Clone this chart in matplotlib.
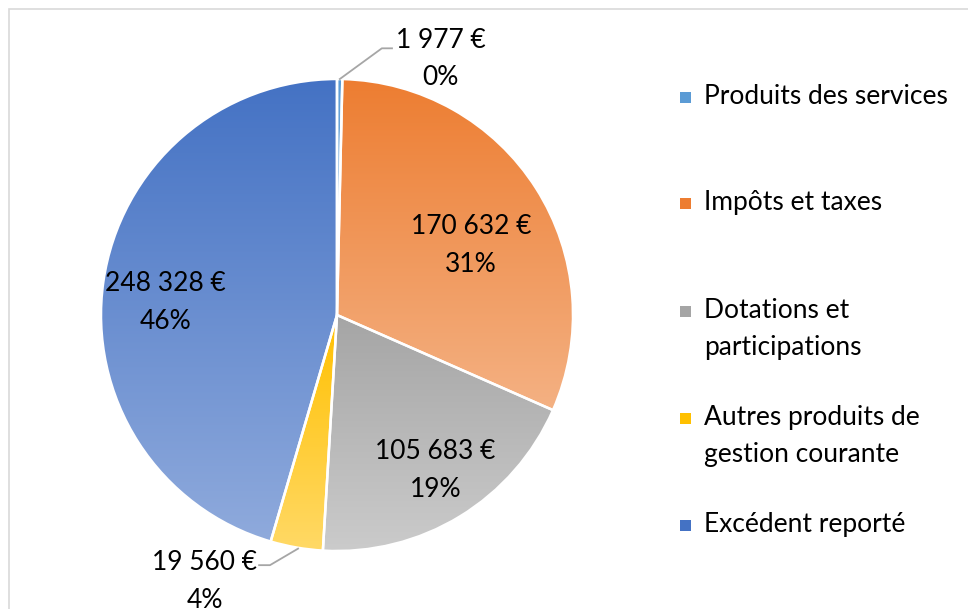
import numpy as np
import matplotlib
matplotlib.use('Agg')
import matplotlib.pyplot as plt
from matplotlib.colors import LinearSegmentedColormap
from matplotlib.patches import Rectangle

# data
categories = ['Produits des services', 'Impôts et taxes', 'Dotations et\nparticipations',
              'Autres produits de\ngestion courante', 'Excédent reporté']
values = [1977, 170632, 105683, 19560, 248328]
value_labels = ['1 977 €', '170 632 €', '105 683 €', '19 560 €', '248 328 €']
pct_labels = ['0%', '31%', '19%', '4%', '46%']
top_colors = ['#5B9BD5', '#ED7D31', '#A5A5A5', '#FFC000', '#4472C4']
bottom_colors = ['#9DC3E6', '#F4B183', '#CBCBCB', '#FFD966', '#8FAADC']

plt.rcParams['font.family'] = ['Lato', 'DejaVu Sans']
W, H = 968, 609
fig = plt.figure(figsize=(W / 100, H / 100), dpi=100)

# chart area border
fig.patches.append(Rectangle((9 / W, -0.1), 1.2, 1 - 9 / H + 0.1, transform=fig.transFigure,
                             facecolor='none', edgecolor='#D9D9D9', linewidth=1.2))

# pie axes: center (337, 315) px, radius 236 px
cx, cy, r = 337, 315, 236
ax = fig.add_axes([(cx - r) / W, (H - cy - r) / H, 2 * r / W, 2 * r / H])
ax.set_xlim(-1, 1)
ax.set_ylim(-1, 1)
ax.set_aspect('equal')
ax.axis('off')

wedges, _ = ax.pie(values, startangle=90, counterclock=False, radius=1,
                   wedgeprops=dict(edgecolor='white', linewidth=1.8))

# vertical gradient per slice
for w, c1, c2 in zip(wedges, top_colors, bottom_colors):
    ext = w.get_path().get_extents()
    cmap = LinearSegmentedColormap.from_list('g', [c2, c1])
    grad = np.linspace(0, 1, 256).reshape(-1, 1)
    im = ax.imshow(grad, cmap=cmap, origin='lower', aspect='auto',
                   extent=(ext.x0, ext.x1, ext.y0, ext.y1), zorder=0.5,
                   interpolation='bilinear')
    im.set_clip_path(w)
    w.set_facecolor('none')
    w.set_zorder(1)
ax.set_xlim(-1, 1)
ax.set_ylim(-1, 1)

fs = 19
ls = 1.62
# inside labels, placed along each slice's middle angle
inside_r = {1: 0.64, 2: 0.78, 4: 0.73}
inside_shift = {1: -5, 2: 1, 4: 4}
for i, w in enumerate(wedges):
    if i not in inside_r:
        continue
    mid = np.deg2rad((w.theta1 + w.theta2) / 2 + inside_shift[i])
    ax.text(inside_r[i] * np.cos(mid), inside_r[i] * np.sin(mid),
            value_labels[i] + '\n' + pct_labels[i], ha='center', va='center',
            fontsize=fs, linespacing=ls, color='black')

# outside labels with leader lines
ax.text(0.44, 1.085, value_labels[0] + '\n' + pct_labels[0], ha='center', va='center',
        fontsize=fs, linespacing=ls)
ax.plot([0.012, 0.19, 0.233], [1.0, 1.13, 1.13], color='#A6A6A6', lw=1.3, clip_on=False)
ax.text(-0.56, -1.13, value_labels[3] + '\n' + pct_labels[3], ha='center', va='center',
        fontsize=fs, linespacing=ls)
ax.plot([-0.165, -0.284, -0.33], [-0.99, -1.06, -1.06], color='#A6A6A6', lw=1.3, clip_on=False)

# legend drawn by hand to keep Excel's spacing
leg_y = [97, 203, 311, 418, 525]
for lab, y, c1, c2 in zip(categories, leg_y, top_colors, bottom_colors):
    fig.patches.append(Rectangle((680 / W, 1 - (y + 6) / H), 11 / W, 11 / H,
                                 transform=fig.transFigure, facecolor=c1, edgecolor='none'))
    fig.text(704 / W, 1 - (y - 13) / H, lab, ha='left', va='top', fontsize=fs,
             linespacing=ls)

fig.savefig('out.png', dpi=100)
